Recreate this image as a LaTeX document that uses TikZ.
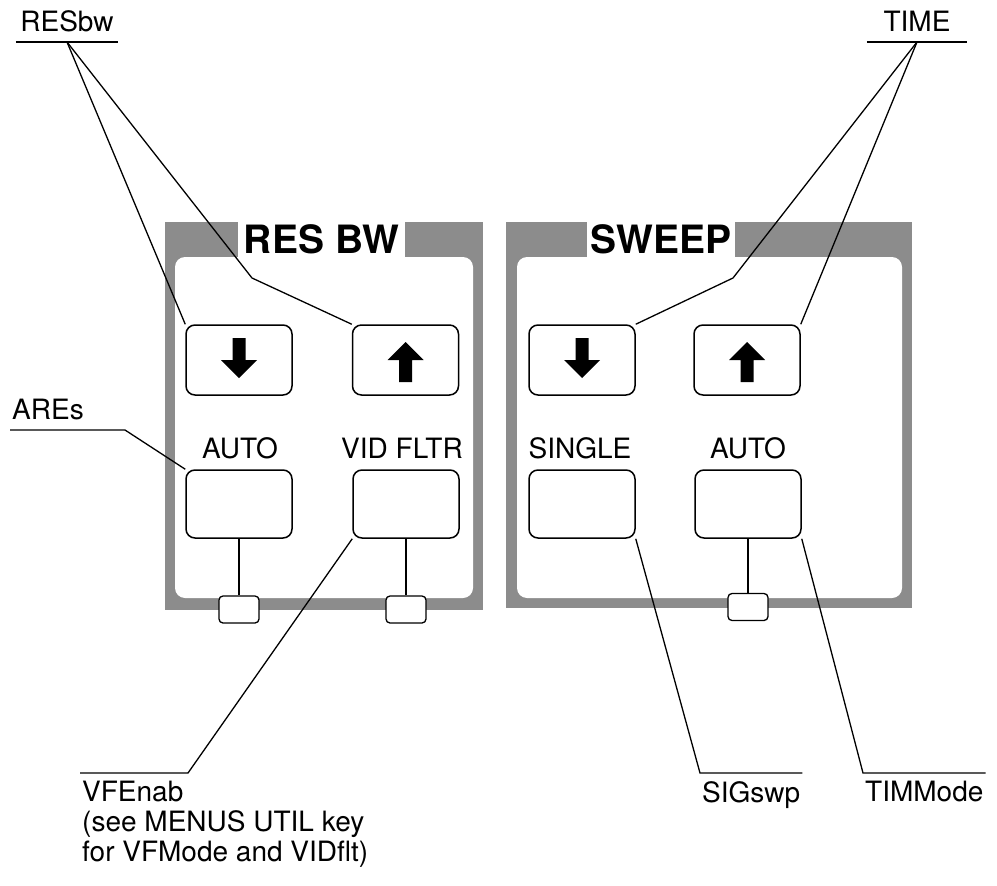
\documentclass[tikz,border=0pt]{standalone}
\usepackage{fontspec}
\setmainfont{TeX Gyre Heros}
\usetikzlibrary{calc}
\tikzset{keybox/.style={draw, line width=1.5pt, rounded corners=9pt, minimum width=106pt, minimum height=70pt, inner sep=0},
  ledbox/.style={draw, fill=white, line width=1.3pt, rounded corners=4pt, minimum width=40pt, minimum height=27pt, inner sep=0},
  head/.style={font=\bfseries\fontsize{39}{40}\selectfont, fill=white, inner sep=0, minimum height=35pt},
  keylab/.style={font=\fontsize{28}{30}\selectfont, anchor=base, inner sep=0},
  tag/.style={font=\fontsize{28}{30}\selectfont, inner xsep=2pt, inner ysep=10pt},
  lead/.style={line width=1.3pt},
  dnarrow/.pic={\fill (-6.5,-22) -- (6.5,-22) -- (6.5,0) -- (18,0) -- (0,18) -- (-18,0) -- (-6.5,0) -- cycle;}}

\begin{document}
\begin{tikzpicture}[x=1pt,y=-1pt]
\useasboundingbox (0,0) rectangle (997,886);

% panels
\fill[black!45] (165,222) rectangle (483,610);
\fill[white, rounded corners=10pt] (175,257) rectangle (473,598);
\fill[black!45] (506,222) rectangle (912,608);
\fill[white, rounded corners=10pt] (517,257) rectangle (902,598);
\node[head, minimum width=167pt] (reshd) at (321.5,239.5) {RES BW};
\node[head, minimum width=148pt] (swphd) at (661,239.5) {SWEEP};

% keys
\node[keybox] (resdn) at (239,360) {};
\node[keybox] (resup) at (405.5,360) {};
\node[keybox] (swpdn) at (582,360) {};
\node[keybox] (swpup) at (747,360) {};
\pic at (resdn) {dnarrow};
\pic[yscale=-1] at (resup) {dnarrow};
\pic at (swpdn) {dnarrow};
\pic[yscale=-1] at (swpup) {dnarrow};

\node[keybox, minimum height=68pt] (resauto) at (239,504) {};
\node[keybox, minimum height=68pt] (vidfltr) at (406,504) {};
\node[keybox, minimum height=68pt] (single) at (582,504) {};
\node[keybox, minimum height=68pt] (swpauto) at (748,504) {};
\node[keylab] (lresauto) at (240,458) {AUTO};
\node[keylab] (lvidfltr) at (402,458) {VID FLTR};
\node[keylab] (lsingle) at (580,458) {SINGLE};
\node[keylab] (lswpauto) at (748,458) {AUTO};

\node[ledbox] (resled) at (239,609.5) {};
\node[ledbox] (vidled) at (406,609.5) {};
\node[ledbox] (swpled) at (748,607) {};
\draw[lead] (resauto) -- (resled);
\draw[lead] (vidfltr) -- (vidled);
\draw[lead] (swpauto) -- (swpled);

% top labels
\node[tag, anchor=south, minimum width=102pt] (resbw) at (67,42) {RESbw};
\draw[lead] (resbw.south west) -- (resbw.south east);
\coordinate (resbend) at (252,278);
\draw[lead] (resbw.south) -- (resdn.north west);
\draw[lead] (resbw.south) -- (resbend) -- (resup.north west);

\node[tag, anchor=south, minimum width=100pt] (time) at (917,42) {TIME};
\draw[lead] (time.south west) -- (time.south east);
\coordinate (timebend) at (733,278);
\draw[lead] (time.south) -- (timebend) -- (swpdn.north east);
\draw[lead] (time.south) -- (swpup.north east);

\node[tag, anchor=south west] (ares) at (10,430) {AREs};
\coordinate (aresbend) at (125,430);
\draw[lead] (ares.south west) -- (aresbend) -- (resauto.north west);

% bottom labels
\node[tag, anchor=north west, inner ysep=8pt, align=left] (vfenab) at (80,773)
  {VFEnab\\(see MENUS UTIL key\\for VFMode and VIDflt)};
\coordinate (vfebend) at (188,773);
\draw[lead] (vidfltr.south west) -- (vfebend) -- (vfenab.north west);

\node[tag, anchor=north west, inner ysep=8pt] (sigswp) at (700,773) {SIGswp};
\draw[lead] (single.south east) -- (sigswp.north west) -- (sigswp.north east);

\node[tag, anchor=north west, inner ysep=8pt] (timmode) at (863,773) {TIMMode};
\draw[lead] (swpauto.south east) -- (timmode.north west) -- (timmode.north east);

\end{tikzpicture}
\end{document}
